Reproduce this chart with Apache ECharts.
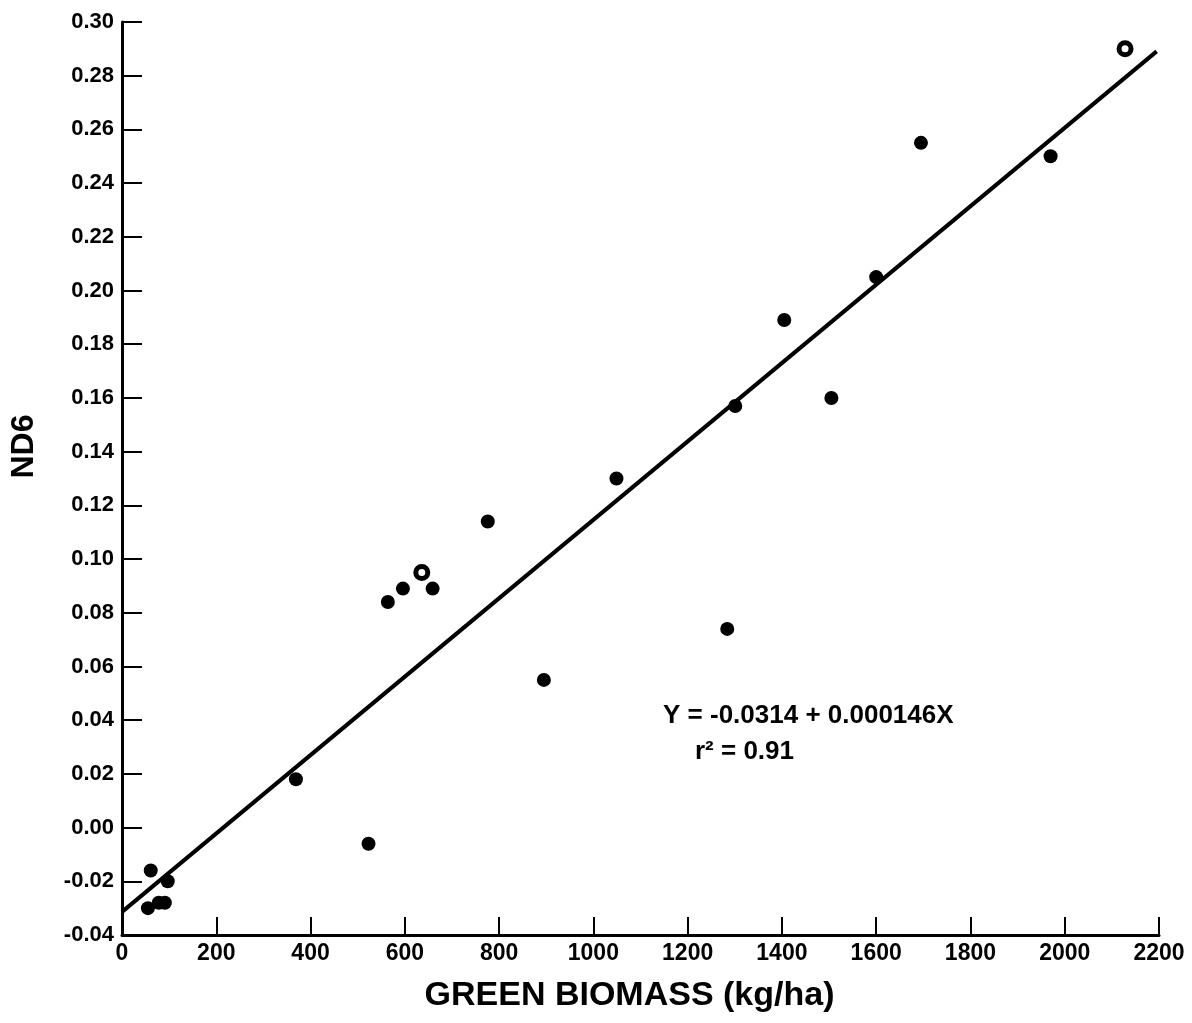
<!DOCTYPE html>
<html>
<head>
<meta charset="utf-8">
<script src="https://cdn.jsdelivr.net/npm/echarts@6/dist/echarts.min.js"></script>
<style>
html,body{margin:0;padding:0;background:#fff;}
#chart{width:1192px;height:1023px;}
</style>
</head>
<body>
<div id="chart"></div>
<script>
// Filled observations: [green biomass kg/ha, ND6]
var solidPoints = [
  [55, -0.030], [61, -0.016], [78, -0.028], [91, -0.028], [97, -0.020],
  [369, 0.018], [523, -0.006], [564, 0.084], [596, 0.089], [659, 0.089],
  [776, 0.114], [895, 0.055], [1049, 0.130], [1284, 0.074], [1301, 0.157],
  [1405, 0.189], [1505, 0.160], [1600, 0.205], [1695, 0.255], [1970, 0.250]
];
// Observations drawn with a light centre
var ringPoints = [[636, 0.095], [2128, 0.290]];
// Regression: Y = -0.0314 + 0.000146X
var intercept = -0.0314;
var slope = 0.000146;
var lineX = [0, 2195];
var xTicks = [0, 200, 400, 600, 800, 1000, 1200, 1400, 1600, 1800, 2000, 2200];
var yTicks = [-0.04, -0.02, 0.00, 0.02, 0.04, 0.06, 0.08, 0.10, 0.12, 0.14, 0.16, 0.18, 0.20, 0.22, 0.24, 0.26, 0.28, 0.30];
var xTitle = 'GREEN BIOMASS (kg/ha)';
var yTitle = 'ND6';
var eqText = 'Y = -0.0314 + 0.000146X';
var r2Text = 'r\u00B2 = 0.91';

var lineData = lineX.map(function (x) { return [x, intercept + slope * x]; });

var font = '"Liberation Sans", Arial, Helvetica, sans-serif';
var chart = echarts.init(document.getElementById('chart'));
chart.setOption({
  backgroundColor: '#fff',
  animation: false,
  grid: { left: 121, right: 33, top: 22, bottom: 88 },
  xAxis: {
    type: 'value', min: xTicks[0], max: xTicks[xTicks.length - 1], interval: 200,
    name: xTitle, nameLocation: 'middle', nameGap: 44,
    nameTextStyle: { fontFamily: font, fontWeight: 'bold', fontSize: 34, color: '#000', padding: [0, 22, 0, 0] },
    axisLine: { show: true, onZero: false, lineStyle: { color: '#000', width: 3 } },
    axisTick: { show: true, inside: true, length: 18, lineStyle: { color: '#000', width: 2 } },
    axisLabel: { color: '#000', fontFamily: font, fontWeight: 'bold', fontSize: 23, margin: 7,
      formatter: function (v) { return String(v); } },
    splitLine: { show: false }
  },
  yAxis: {
    type: 'value', min: yTicks[0], max: yTicks[yTicks.length - 1], interval: 0.02,
    name: yTitle, nameLocation: 'middle', nameGap: 82,
    nameTextStyle: { fontFamily: font, fontWeight: 'bold', fontSize: 32, color: '#000', padding: [0, 0, 0, 64] },
    axisLine: { show: true, onZero: false, lineStyle: { color: '#000', width: 3 } },
    axisTick: { show: true, inside: true, length: 20, lineStyle: { color: '#000', width: 2 } },
    axisLabel: { color: '#000', fontFamily: font, fontWeight: 'bold', fontSize: 22, margin: 8,
      formatter: function (v) { return (Math.abs(v) < 1e-9 ? 0 : v).toFixed(2); } },
    splitLine: { show: false }
  },
  series: [
    {
      type: 'line', data: lineData, symbol: 'none', silent: true,
      lineStyle: { color: '#000', width: 4 }, z: 2
    },
    {
      type: 'scatter', data: solidPoints, symbol: 'circle', symbolSize: 14,
      itemStyle: { color: '#000', opacity: 1 }, z: 3
    },
    {
      type: 'scatter', data: ringPoints, symbol: 'circle', symbolSize: 12,
      itemStyle: { color: '#fff', borderColor: '#000', borderWidth: 5, opacity: 1 }, z: 3
    }
  ],
  graphic: [
    { type: 'text', left: 663, top: 703,
      style: { text: eqText, fill: '#000', font: 'bold 26px ' + font } },
    { type: 'text', left: 695, top: 739,
      style: { text: r2Text, fill: '#000', font: 'bold 26px ' + font } }
  ]
});
</script>
</body>
</html>
